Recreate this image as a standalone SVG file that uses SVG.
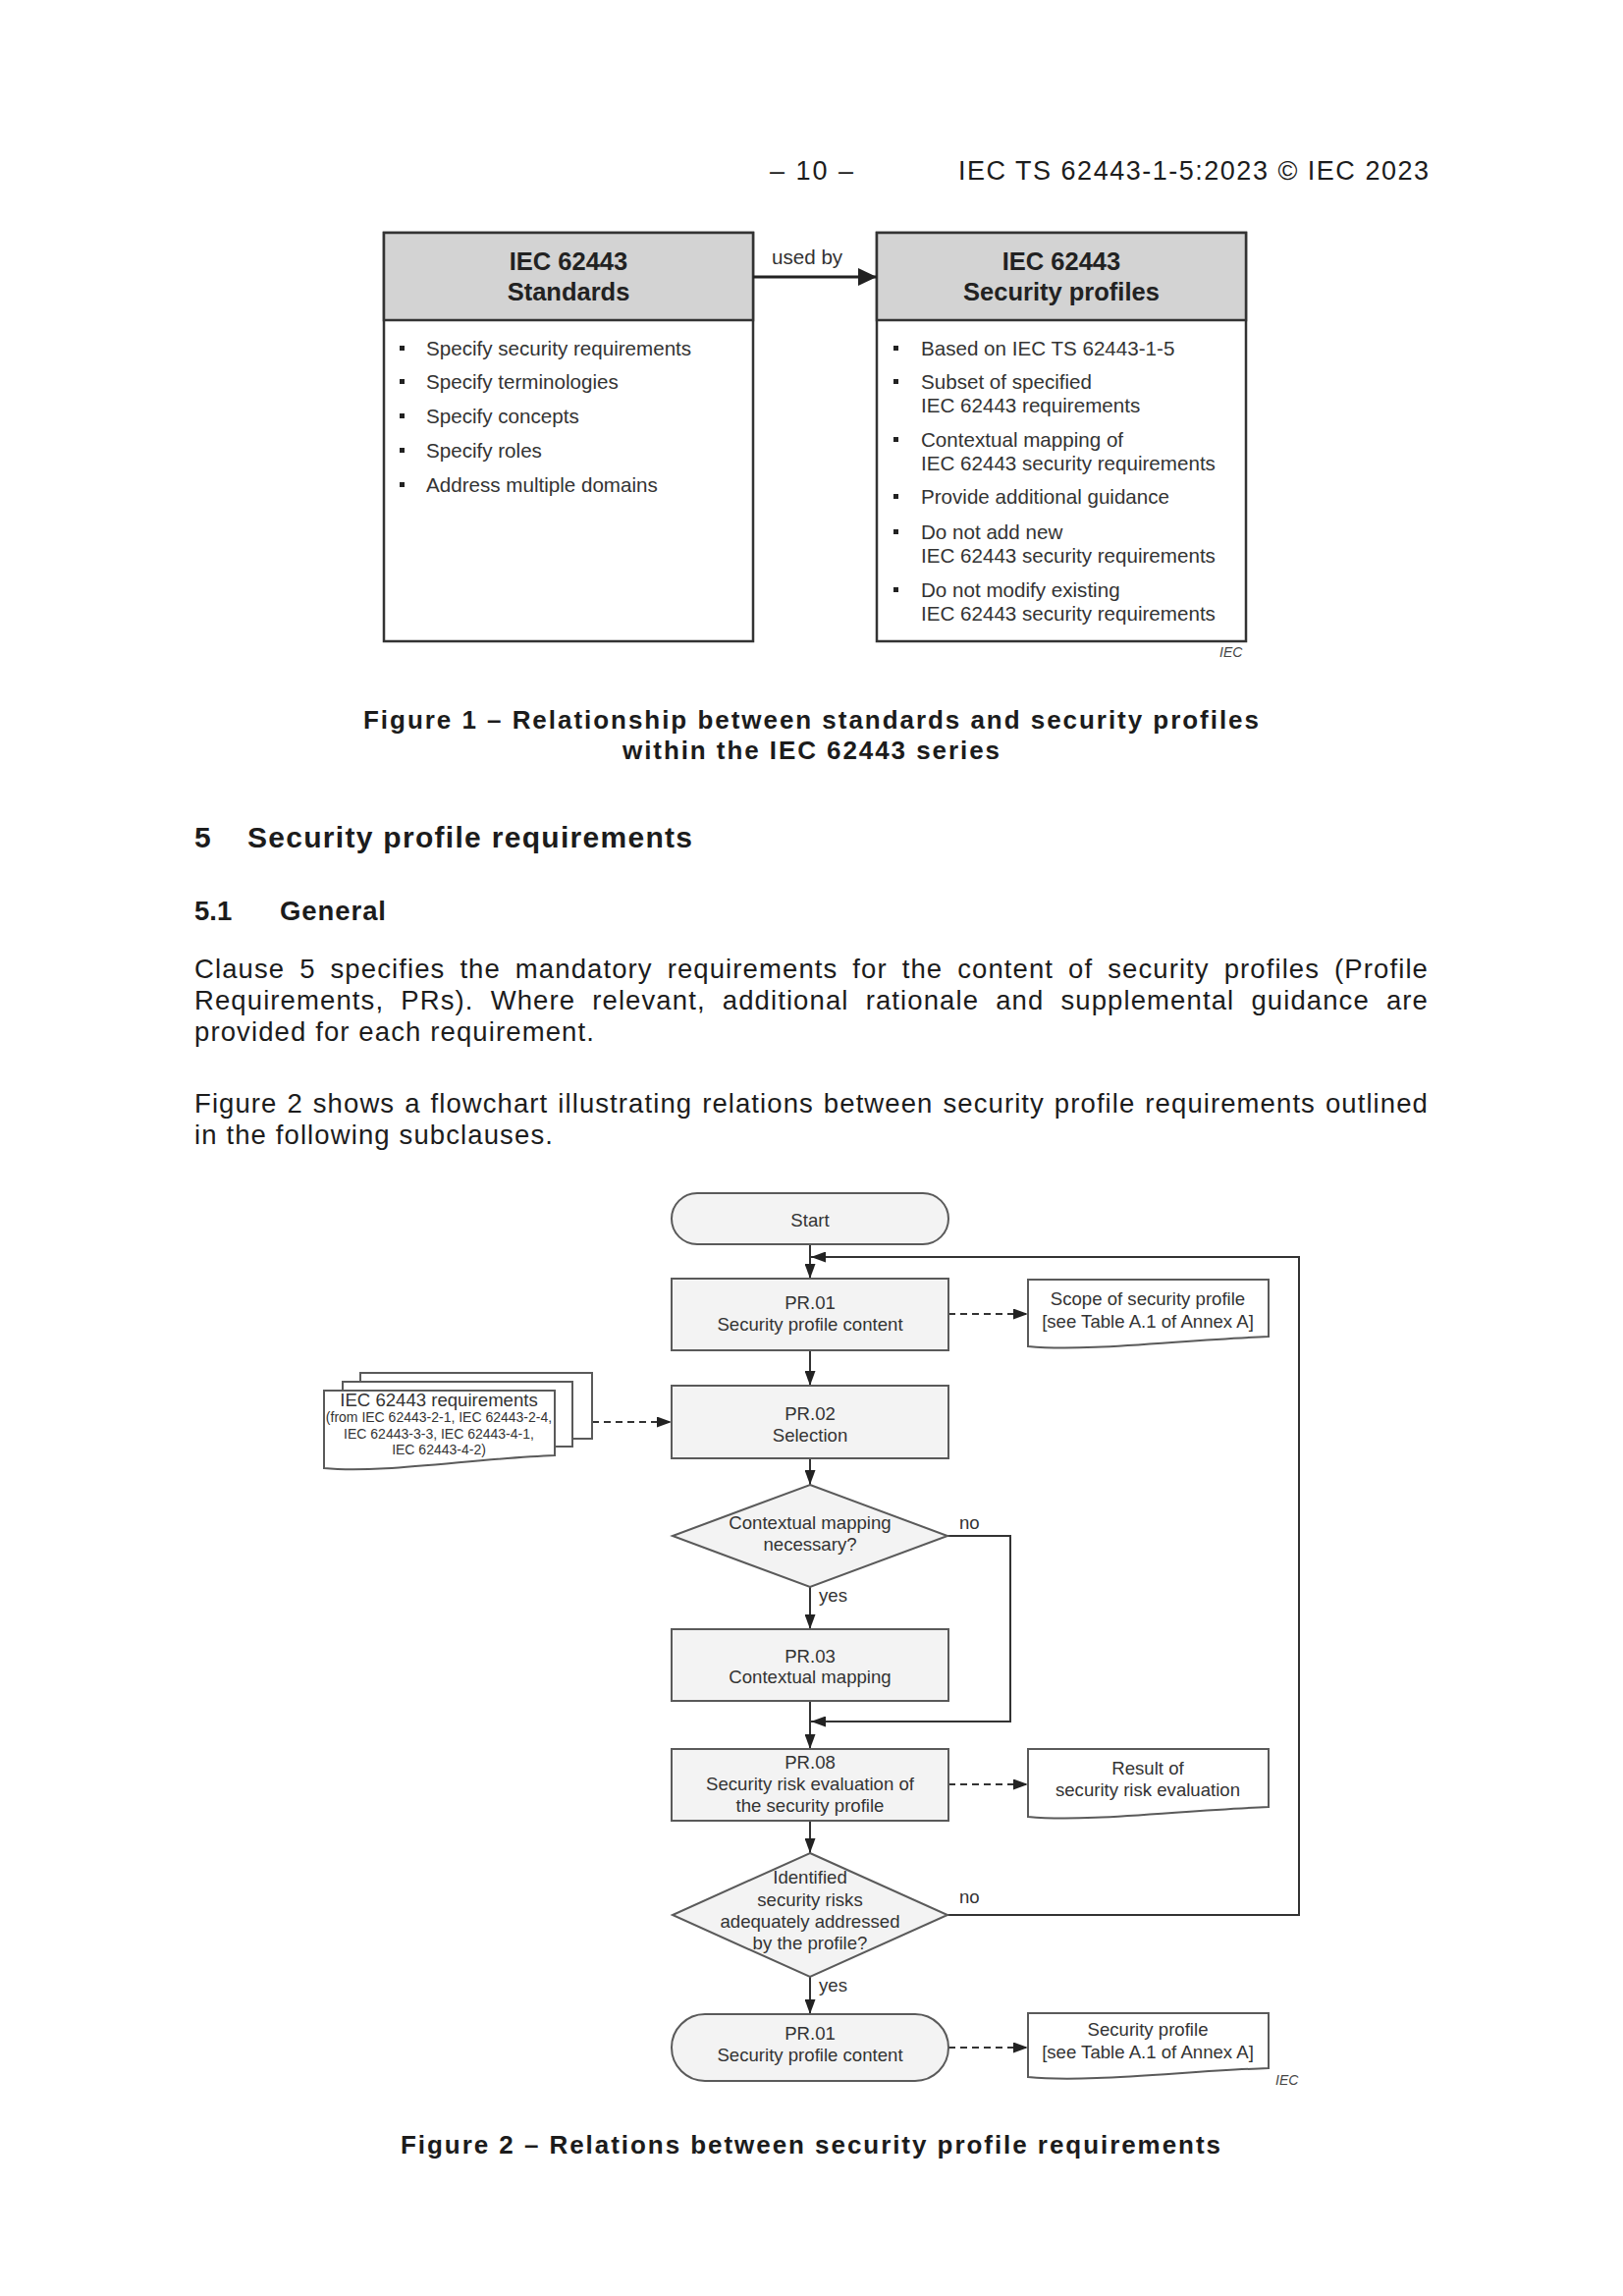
<svg xmlns="http://www.w3.org/2000/svg" width="1653" height="2338" viewBox="0 0 1653 2338">
<style>
text{font-family:"Liberation Sans",Arial,sans-serif;fill:#1c1c1c}
.hdr{font-size:27px}
.body{font-size:27.5px;letter-spacing:1.1px}
.h1{font-size:30px;font-weight:bold}
.h2{font-size:27.5px;font-weight:bold}
.cap{font-size:26px;font-weight:bold}
.ttl{font-size:25.5px;font-weight:bold;text-anchor:middle;fill:#222}
.li{font-size:20.6px;fill:#333}
.f2{font-size:18.6px;fill:#333;text-anchor:middle}
.f2s{font-size:14px;fill:#333;text-anchor:middle}
.lbl{font-size:18.6px;fill:#333}
.iec{font-size:14px;font-style:italic;fill:#444}
.f1box{fill:#fff;stroke:#333;stroke-width:2.5}
.f1head{fill:#d3d3d3;stroke:#333;stroke-width:2.5}
.proc{fill:#f3f3f3;stroke:#5a5a5a;stroke-width:2}
.doc{fill:#fff;stroke:#5a5a5a;stroke-width:2}
.flow{fill:none;stroke:#333;stroke-width:2}
.dash{fill:none;stroke:#333;stroke-width:2;stroke-dasharray:7 5}
.bul{fill:#222}
</style>
<defs>
<marker id="ah" markerUnits="userSpaceOnUse" markerWidth="15" markerHeight="11" refX="15" refY="5.5" orient="auto">
<path d="M0,0 L15,5.5 L0,11 Z" fill="#222"/>
</marker>
<marker id="ahBig" markerUnits="userSpaceOnUse" markerWidth="19" markerHeight="18" refX="19" refY="9" orient="auto">
<path d="M0,0 L19,9 L0,18 Z" fill="#222"/>
</marker>
</defs>
<rect width="1653" height="2338" fill="#fff"/>

<!-- page header -->
<g id="page-header">
<text class="hdr" x="784" y="183" textLength="85" lengthAdjust="spacing">– 10 –</text>
<text class="hdr" x="976" y="183" textLength="479" lengthAdjust="spacing">IEC TS 62443-1-5:2023 © IEC 2023</text>
</g>

<!-- Figure 1 -->
<g id="fig1-standards">
<rect class="f1box" x="391" y="237" width="376" height="416"/>
<rect class="f1head" x="391" y="237" width="376" height="89"/>
<text class="ttl" x="579" y="275">IEC 62443</text>
<text class="ttl" x="579" y="306">Standards</text>
<rect class="bul" x="407" y="352" width="5" height="5"/>
<text class="li" x="434" y="362">Specify security requirements</text>
<rect class="bul" x="407" y="386" width="5" height="5"/>
<text class="li" x="434" y="396">Specify terminologies</text>
<rect class="bul" x="407" y="421" width="5" height="5"/>
<text class="li" x="434" y="431">Specify concepts</text>
<rect class="bul" x="407" y="456" width="5" height="5"/>
<text class="li" x="434" y="466">Specify roles</text>
<rect class="bul" x="407" y="491" width="5" height="5"/>
<text class="li" x="434" y="501">Address multiple domains</text>
</g>
<g id="fig1-profiles">
<rect class="f1box" x="893" y="237" width="376" height="416"/>
<rect class="f1head" x="893" y="237" width="376" height="89"/>
<text class="ttl" x="1081" y="275">IEC 62443</text>
<text class="ttl" x="1081" y="306">Security profiles</text>
<rect class="bul" x="910" y="352" width="5" height="5"/>
<text class="li" x="938" y="362">Based on IEC TS 62443-1-5</text>
<rect class="bul" x="910" y="386" width="5" height="5"/>
<text class="li" x="938" y="396">Subset of specified</text>
<text class="li" x="938" y="420">IEC 62443 requirements</text>
<rect class="bul" x="910" y="445" width="5" height="5"/>
<text class="li" x="938" y="455">Contextual mapping of</text>
<text class="li" x="938" y="479">IEC 62443 security requirements</text>
<rect class="bul" x="910" y="503" width="5" height="5"/>
<text class="li" x="938" y="513">Provide additional guidance</text>
<rect class="bul" x="910" y="539" width="5" height="5"/>
<text class="li" x="938" y="549">Do not add new</text>
<text class="li" x="938" y="573">IEC 62443 security requirements</text>
<rect class="bul" x="910" y="598" width="5" height="5"/>
<text class="li" x="938" y="608">Do not modify existing</text>
<text class="li" x="938" y="632">IEC 62443 security requirements</text>
</g>
<g id="fig1-connectors">
<path d="M767,282 H893" fill="none" stroke="#222" stroke-width="2.8" marker-end="url(#ahBig)"/>
<text class="li" x="786" y="269">used by</text>
</g>
<text class="iec" x="1242" y="669">IEC</text>

<g id="fig1-caption">
<text class="cap" x="370" y="742" textLength="912" lengthAdjust="spacing">Figure 1 – Relationship between standards and security profiles</text>
<text class="cap" x="634" y="773" textLength="384" lengthAdjust="spacing">within the IEC 62443 series</text>
</g>

<!-- Clause text -->
<g id="clause-text">
<text class="h1" x="198" y="863">5</text>
<text class="h1" x="252" y="863" textLength="453" lengthAdjust="spacing">Security profile requirements</text>
<text class="h2" x="198" y="937">5.1</text>
<text class="h2" x="285" y="937" textLength="108" lengthAdjust="spacing">General</text>
<text class="body" x="198" y="996" word-spacing="6.2" textLength="1257" lengthAdjust="spacing">Clause 5 specifies the mandatory requirements for the content of security profiles (Profile</text>
<text class="body" x="198" y="1028" word-spacing="8.4" textLength="1257" lengthAdjust="spacing">Requirements, PRs). Where relevant, additional rationale and supplemental guidance are</text>
<text class="body" x="198" y="1060" textLength="408" lengthAdjust="spacing">provided for each requirement.</text>
<text class="body" x="198" y="1133" word-spacing="1.2" textLength="1257" lengthAdjust="spacing">Figure 2 shows a flowchart illustrating relations between security profile requirements outlined</text>
<text class="body" x="198" y="1165" textLength="366" lengthAdjust="spacing">in the following subclauses.</text>
</g>

<!-- Figure 2 connectors -->
<g id="fig2-connectors">
<path class="flow" d="M825,1267 V1302" marker-end="url(#ah)"/>
<path class="flow" d="M825,1375 V1411" marker-end="url(#ah)"/>
<path class="flow" d="M825,1485 V1512" marker-end="url(#ah)"/>
<path class="flow" d="M825,1616 V1659" marker-end="url(#ah)"/>
<path class="flow" d="M825,1732 V1781" marker-end="url(#ah)"/>
<path class="flow" d="M965,1564 H1029 V1753 H826" marker-end="url(#ah)"/>
<path class="flow" d="M825,1854 V1887" marker-end="url(#ah)"/>
<path class="flow" d="M825,2013 V2051" marker-end="url(#ah)"/>
<path class="flow" d="M965,1950 H1323 V1280 H826" marker-end="url(#ah)"/>
<path class="dash" d="M966,1338 H1047" marker-end="url(#ah)"/>
<path class="dash" d="M603,1448 H684" marker-end="url(#ah)"/>
<path class="dash" d="M966,1817 H1047" marker-end="url(#ah)"/>
<path class="dash" d="M966,2085 H1047" marker-end="url(#ah)"/>
<text class="lbl" x="977" y="1557">no</text>
<text class="lbl" x="834" y="1631">yes</text>
<text class="lbl" x="977" y="1938">no</text>
<text class="lbl" x="834" y="2028">yes</text>
</g>

<!-- Figure 2 nodes -->
<g id="start">
<rect class="proc" x="684" y="1215" width="282" height="52" rx="26" ry="26"/>
<text class="f2" x="825" y="1249">Start</text>
</g>
<g id="pr01">
<rect class="proc" x="684" y="1302" width="282" height="73"/>
<text class="f2" x="825" y="1333">PR.01</text>
<text class="f2" x="825" y="1355">Security profile content</text>
</g>
<g id="scope-doc">
<path class="doc" d="M1047,1303 H1292 V1361 C1206,1364 1108,1377 1047,1371 Z"/>
<text class="f2" x="1169" y="1329">Scope of security profile</text>
<text class="f2" x="1169" y="1352">[see Table A.1 of Annex A]</text>
</g>
<g id="iec-requirements">
<rect class="doc" x="367" y="1398" width="236" height="67"/>
<rect class="doc" x="349" y="1407" width="234" height="66"/>
<path class="doc" d="M330,1416 H565 V1482 C483,1485 389,1501 330,1495 Z"/>
<text class="f2" x="447" y="1432">IEC 62443 requirements</text>
<text class="f2s" x="447" y="1448">(from IEC 62443-2-1, IEC 62443-2-4,</text>
<text class="f2s" x="447" y="1465">IEC 62443-3-3, IEC 62443-4-1,</text>
<text class="f2s" x="447" y="1481">IEC 62443-4-2)</text>
</g>
<g id="pr02">
<rect class="proc" x="684" y="1411" width="282" height="74"/>
<text class="f2" x="825" y="1446">PR.02</text>
<text class="f2" x="825" y="1468">Selection</text>
</g>
<g id="decision-mapping">
<path class="proc" d="M825,1512 L965,1564 L825,1616 L685,1564 Z"/>
<text class="f2" x="825" y="1557">Contextual mapping</text>
<text class="f2" x="825" y="1579">necessary?</text>
</g>
<g id="pr03">
<rect class="proc" x="684" y="1659" width="282" height="73"/>
<text class="f2" x="825" y="1693">PR.03</text>
<text class="f2" x="825" y="1714">Contextual mapping</text>
</g>
<g id="pr08">
<rect class="proc" x="684" y="1781" width="282" height="73"/>
<text class="f2" x="825" y="1801">PR.08</text>
<text class="f2" x="825" y="1823">Security risk evaluation of</text>
<text class="f2" x="825" y="1845">the security profile</text>
</g>
<g id="result-doc">
<path class="doc" d="M1047,1781 H1292 V1840 C1206,1843 1108,1856 1047,1850 Z"/>
<text class="f2" x="1169" y="1807">Result of</text>
<text class="f2" x="1169" y="1829">security risk evaluation</text>
</g>
<g id="decision-risks">
<path class="proc" d="M825,1887 L965,1950 L825,2013 L685,1950 Z"/>
<text class="f2" x="825" y="1918">Identified</text>
<text class="f2" x="825" y="1941">security risks</text>
<text class="f2" x="825" y="1963">adequately addressed</text>
<text class="f2" x="825" y="1985">by the profile?</text>
</g>
<g id="pr01-end">
<rect class="proc" x="684" y="2051" width="282" height="68" rx="34" ry="34"/>
<text class="f2" x="825" y="2077">PR.01</text>
<text class="f2" x="825" y="2099">Security profile content</text>
</g>
<g id="profile-doc">
<path class="doc" d="M1047,2050 H1292 V2106 C1206,2109 1108,2121 1047,2115 Z"/>
<text class="f2" x="1169" y="2073">Security profile</text>
<text class="f2" x="1169" y="2096">[see Table A.1 of Annex A]</text>
</g>
<text class="iec" x="1299" y="2123">IEC</text>

<g id="fig2-caption">
<text class="cap" x="408" y="2193" textLength="835" lengthAdjust="spacing">Figure 2 – Relations between security profile requirements</text>
</g>
</svg>
